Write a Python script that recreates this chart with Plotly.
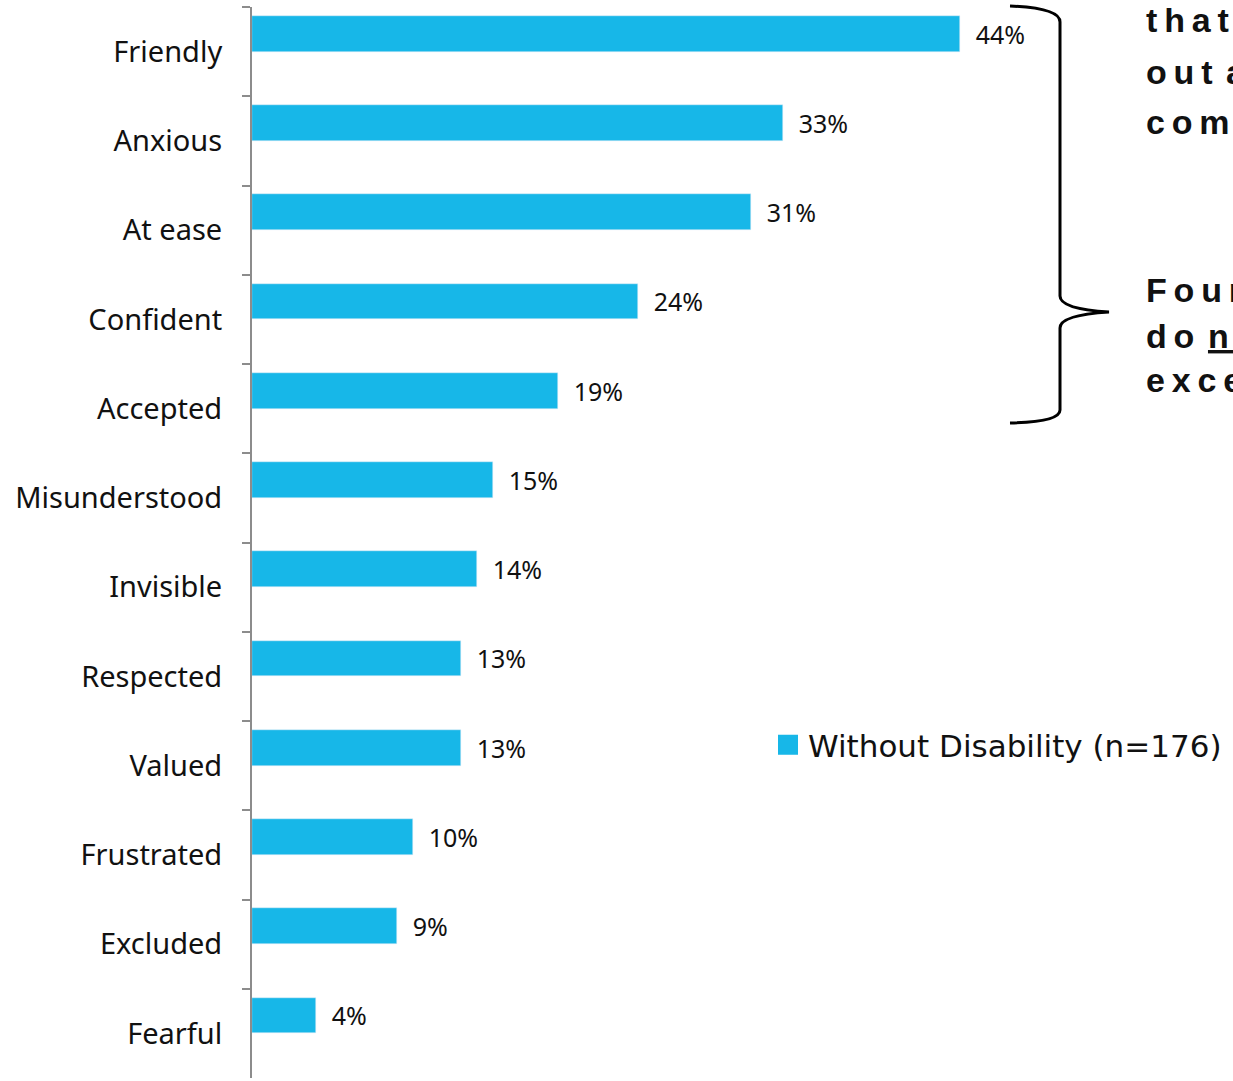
import plotly.graph_objects as go

# Survey responses: feelings reported by respondents without disability
feelings = ["Friendly", "Anxious", "At ease", "Confident", "Accepted", "Misunderstood",
            "Invisible", "Respected", "Valued", "Frustrated", "Excluded", "Fearful"]
shares = [44, 33, 31, 24, 19, 15, 14, 13, 13, 10, 9, 4]
series_name = "Without Disability (n=176)"

W, H = 1233, 1081
ML, MR, MT, MB = 252, 0, 7, 3
PW, PH = W - ML - MR, H - MT - MB

BAR_BLUE = "#17B7E8"
AXIS_GREY = "#8C8C8C"
LABEL_FONT = "Noto Sans"


def px_x(px):
    return (px - ML) / PW


def px_y(py):
    return 1 - (py - MT) / PH


fig = go.Figure()
fig.add_trace(go.Bar(
    y=feelings,
    x=shares,
    orientation="h",
    name=series_name,
    marker=dict(color=BAR_BLUE),
    width=0.4,
    offset=-0.4,
    text=[f"\u00a0\u00a0{v}%" for v in shares],
    textposition="outside",
    textfont=dict(family=LABEL_FONT, size=25, color="#111111"),
    constraintext="none",
    cliponaxis=False,
    showlegend=False,
))

# Legend entry with a larger square swatch
fig.add_trace(go.Scatter(
    x=[None], y=[None], mode="markers", name=series_name,
    marker=dict(symbol="square", size=16, color=BAR_BLUE,
                line=dict(color=BAR_BLUE, width=4)),
    showlegend=True, hoverinfo="skip",
))

# Curly brace grouping the top five feelings
brace_pts = [
    ("M", [(1010, 6)]),
    ("Q", [(1060, 8), (1060, 22)]),
    ("L", [(1060, 296)]),
    ("Q", [(1060, 309), (1109, 312)]),
    ("Q", [(1060, 315), (1060, 328)]),
    ("L", [(1060, 410)]),
    ("Q", [(1060, 422), (1010, 423)]),
]
path = " ".join(
    cmd + " " + " ".join(f"{px_x(x):.5f},{px_y(y):.5f}" for x, y in pts)
    for cmd, pts in brace_pts
)
fig.add_shape(type="path", path=path, xref="paper", yref="paper",
              line=dict(color="#000000", width=3), layer="above")

THIN = "\u2009"
GAP = THIN * 2


def spaced(s):
    # widen letter spacing with thin spaces, wider gap between words
    return GAP.join(THIN.join(list(w)) for w in s.split(" "))


callout_lines = [
    ("that stand", 33),
    ("out among the", 85),
    ("community", 135),
    ("Four in five", 303),
    ("do <u>not</u> feel", 349),
    ("excessive", 393),
]
for txt, base in callout_lines:
    if "<u>" in txt:
        body = spaced("do") + GAP + "<u>" + spaced("not") + "</u>" + GAP + spaced("feel")
    else:
        body = spaced(txt)
    fig.add_annotation(
        text=body, xref="paper", yref="paper",
        x=px_x(1144), y=px_y(base + 8), xanchor="left", yanchor="bottom",
        showarrow=False, align="left",
        font=dict(family="Liberation Sans", size=34, color="#111111", weight="bold"),
    )

fig.update_layout(
    width=W, height=H,
    margin=dict(l=ML, r=MR, t=MT, b=MB, pad=0),
    paper_bgcolor="white", plot_bgcolor="white",
    bargap=0,
    showlegend=True,
    legend=dict(
        x=px_x(768), y=px_y(745), xanchor="left", yanchor="middle",
        font=dict(family="DejaVu Sans", size=31, color="#111111"),
        bgcolor="rgba(0,0,0,0)",
    ),
    xaxis=dict(range=[0, PW / 16.09], visible=False, fixedrange=True),
    yaxis=dict(
        type="category",
        categoryorder="array", categoryarray=feelings,
        range=[len(feelings) - 0.5, -0.5],
        tickson="boundaries",
        ticks="outside", ticklen=8, tickwidth=2, tickcolor=AXIS_GREY,
        showline=True, linecolor=AXIS_GREY, linewidth=2,
        showgrid=False, zeroline=False,
        ticklabelstandoff=22,
        tickfont=dict(family=LABEL_FONT, size=29, color="#111111"),
    ),
)

fig.write_html("out.html")
